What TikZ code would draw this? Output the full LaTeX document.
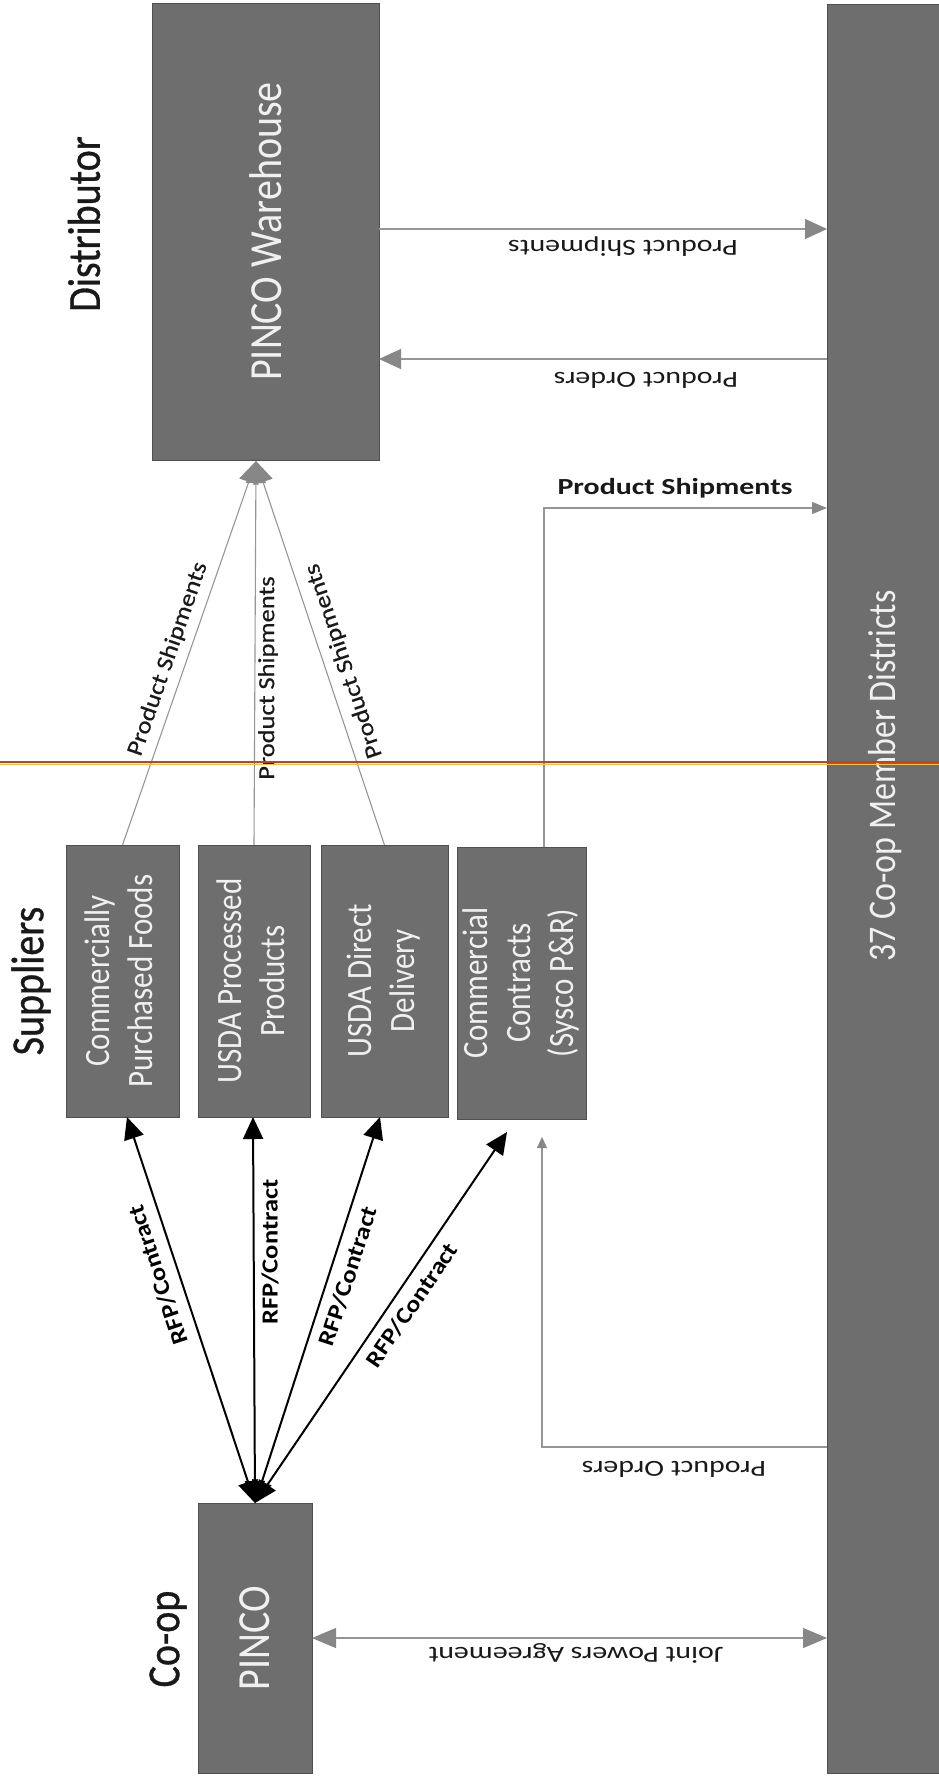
\documentclass[tikz,border=0pt]{standalone}
\usepackage{fontspec}
\usepackage{graphicx}
\setmainfont{Carlito}
\newfontfamily\headface[FakeBold=0.8]{Carlito}
\newfontfamily\wideface[FakeStretch=1.3]{Carlito}
\newfontfamily\slantface[FakeStretch=1.15]{Carlito}
\newfontfamily\slantheavy[FakeStretch=1.15,FakeBold=0.5]{Carlito}
\usetikzlibrary{arrows.meta}
\definecolor{boxgray}{RGB}{110,110,110}
\definecolor{boxedge}{RGB}{80,80,80}
\definecolor{linkgray}{RGB}{150,150,150}
\definecolor{headgray}{RGB}{135,135,135}
\definecolor{boxtext}{RGB}{240,240,240}
\definecolor{inkdark}{RGB}{25,25,25}
\definecolor{streakred}{RGB}{205,60,35}
\definecolor{streakyellow}{RGB}{240,200,70}
% stretch rotated lettering a little along its height
\newcommand\tallen[1]{\scalebox{1}[1.15]{#1}}

\begin{document}
\begin{tikzpicture}[x=1pt,y=-1pt,
  box/.style={draw=boxedge,line width=0.8pt,fill=boxgray,text=boxtext,inner sep=0pt,outer sep=0pt},
  bigtext/.style={font=\fontsize{40}{48}\selectfont},
  suptext/.style={font=\fontsize{31}{37.4}\selectfont},
  header/.style={rotate=90,inner sep=0pt,text=inkdark,font=\headface\fontsize{40}{48}\selectfont},
  hlab/.style={inner sep=0pt,text=inkdark,font=\wideface\fontsize{23}{27}\selectfont},
  blab/.style={inner sep=0pt,text=inkdark,font=\wideface\bfseries\fontsize{23}{27}\selectfont},
  dlab/.style={inner sep=0pt,text=inkdark,font=\slantheavy\fontsize{23}{27}\selectfont},
  rlab/.style={inner sep=0pt,text=black,font=\slantface\bfseries\fontsize{23}{27}\selectfont},
  graylink/.style={draw=linkgray,line width=1.1pt},
  grayhead/.style={-{Triangle[length=22pt,width=20pt,color=headgray]}},
  smallhead/.style={-{Triangle[length=15pt,width=12pt,color=headgray]}},
  tinyhead/.style={-{Triangle[length=11pt,width=10pt,color=headgray]}},
  bothheads/.style={{Triangle[length=24pt,width=20pt,color=headgray]}-{Triangle[length=24pt,width=20pt,color=headgray]}},
  rfp/.style={draw=black,line width=2pt,{Triangle[length=22pt,width=20pt]}-{Triangle[length=22pt,width=20pt]}}
]
\useasboundingbox (0,0) rectangle (939,1786);
\fill[white] (0,0) rectangle (939,1786);

% ---- boxes ----
\node[box,bigtext,minimum width=227pt,minimum height=457pt] (wh) at (265.5,231.5)
  {\rotatebox{90}{\tallen{PINCO Warehouse}}};
\node[box,suptext,minimum width=113pt,minimum height=272pt] (b1) at (122.5,981)
  {\rotatebox{90}{\tallen{\begin{tabular}{@{}c@{}}Commercially\\Purchased Foods\end{tabular}}}};
\node[box,suptext,minimum width=112pt,minimum height=272pt] (b2) at (254,981)
  {\rotatebox{90}{\tallen{\begin{tabular}{@{}c@{}}USDA Processed\\Products\end{tabular}}}};
\node[box,suptext,minimum width=127pt,minimum height=272pt] (b3) at (384.5,981)
  {\rotatebox{90}{\tallen{\begin{tabular}{@{}c@{}}USDA Direct\\Delivery\end{tabular}}}};
\node[box,suptext,minimum width=128pt,minimum height=272pt] (b4) at (522,983)
  {\rotatebox{90}{\tallen{\begin{tabular}{@{}c@{}}Commercial\\Contracts\\(Sysco P\&R)\end{tabular}}}};
\node[box,bigtext,minimum width=114pt,minimum height=270pt] (coop) at (255,1638)
  {\rotatebox{90}{\tallen{PINCO}}};
\node[box,minimum width=114pt,minimum height=1769pt] (dist) at (884,888.5) {};
\node[rotate=90,inner sep=0pt,text=boxtext,font=\fontsize{34}{40}\selectfont] (distname) at (885,776)
  {\tallen{37 Co-op Member Districts}};

% ---- column headers ----
\node[header] (hdist) at (84,224) {\tallen{Distributor}};
\node[header] (hsup) at (31,981) {\tallen{Suppliers}};
\node[header] (hcoop) at (168,1639) {\tallen{Co-op}};

% ---- shipments from suppliers into the warehouse ----
\coordinate (whIn) at (256,461);
\draw[graylink,grayhead] (b1.north) -- (whIn);
\draw[graylink,grayhead] (b2.north) -- (whIn);
\draw[graylink,grayhead] (b3.north) -- (whIn);
\node[dlab,rotate=70.9] (ps1) at (168,659) {Product Shipments};
\node[dlab,rotate=90] (ps2) at (268,678) {Product Shipments};
\node[dlab,rotate=108.5] (ps3) at (344,661) {Product Shipments};

% ---- contracts between the co-op and its suppliers ----
\coordinate (coopIn) at (255,1503);
\coordinate (r4end) at (507,1132);
\draw[rfp] (coopIn) -- ([xshift=4.5pt]b1.south);
\draw[rfp] (coopIn) -- ([xshift=-1pt]b2.south);
\draw[rfp] (coopIn) -- ([xshift=-4.5pt]b3.south);
\draw[rfp] (coopIn) -- (r4end);
\node[rlab,rotate=108.4] (rf1) at (158,1275) {RFP/Contract};
\node[rlab,rotate=90] (rf2) at (270,1252) {RFP/Contract};
\node[rlab,rotate=72] (rf3) at (348,1276) {RFP/Contract};
\node[rlab,rotate=55.7] (rf4) at (412,1305) {RFP/Contract};

% ---- warehouse and districts ----
\coordinate (yShip) at (0,229);
\coordinate (yOrd) at (0,359);
\draw[graylink,grayhead] (wh.east |- yShip) -- (dist.west |- yShip);
\draw[graylink,grayhead] (dist.west |- yOrd) -- (wh.east |- yOrd);
\node[hlab,rotate=180] (lshiptop) at (623,247) {Product Shipments};
\node[hlab,rotate=180] (lordtop) at (646,380) {Product Orders};

% ---- direct commercial deliveries ----
\coordinate (shipTurn) at (544,508);
\draw[graylink,smallhead] (b4.north -| shipTurn) -- (shipTurn) -- (dist.west |- shipTurn);
\node[blab] (lshipmid) at (675,488) {Product Shipments};

\coordinate (ordTurn) at (542,1447);
\coordinate (ordEnd) at (542,1137);
\draw[graylink,tinyhead] (dist.west |- ordTurn) -- (ordTurn) -- (ordEnd);
\node[hlab,rotate=180] (lordlow) at (674,1469) {Product Orders};

% ---- joint powers agreement ----
\coordinate (yJpa) at (0,1638);
\draw[graylink,bothheads] (coop.east |- yJpa) -- (dist.west |- yJpa);
\node[hlab,rotate=180] (ljpa) at (576,1653) {Joint Powers Agreement};

% ---- thin orange rule across the page ----
\draw[streakred,line width=2pt] (0,762) -- (939,762);
\draw[streakyellow,line width=1.5pt] (0,764.5) -- (939,764.5);
\end{tikzpicture}
\end{document}
